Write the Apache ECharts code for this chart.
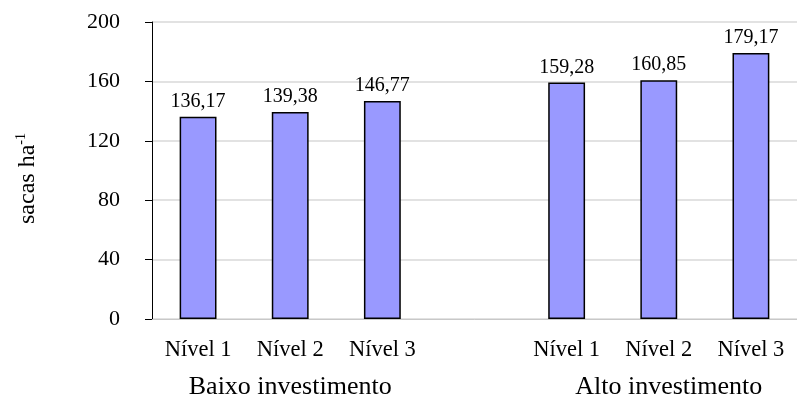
<!DOCTYPE html>
<html>
<head>
<meta charset="utf-8">
<script src="https://cdn.jsdelivr.net/npm/echarts@6/dist/echarts.min.js"></script>
<style>
  html, body { margin: 0; padding: 0; background: #fff; }
  #chart { width: 797px; height: 398px; }
</style>
</head>
<body>
<div id="chart"></div>
<script>
// Yield per investment level; the empty slot separates the two groups
const categories = ['Nível 1', 'Nível 2', 'Nível 3', '', 'Nível 1', 'Nível 2', 'Nível 3'];
const groupLabels = ['', 'Baixo investimento', '', '', '', 'Alto investimento', ''];
const yieldValues = [136.17, 139.38, 146.77, null, 159.28, 160.85, 179.17];
const yTicks = { min: 0, max: 200, interval: 40 };

const FONT = "'Liberation Serif', 'Times New Roman', serif";

const chart = echarts.init(document.getElementById('chart'), null, { renderer: 'canvas' });

chart.setOption({
  animation: false,
  backgroundColor: '#ffffff',
  grid: { left: 152, right: 0, top: 22, bottom: 79, containLabel: false, outerBoundsMode: 'none' },
  xAxis: [
    {
      type: 'category',
      data: categories,
      axisLine: { lineStyle: { color: '#c8c8c8', width: 1 } },
      axisTick: { show: false },
      axisLabel: { interval: 0, margin: 20, color: '#000', fontFamily: FONT, fontSize: 22.5 }
    },
    {
      type: 'category',
      data: groupLabels,
      position: 'bottom',
      axisLine: { show: false },
      axisTick: { show: false },
      splitLine: { show: false },
      axisLabel: {
        interval: 0, margin: 55, color: '#000', fontFamily: FONT, fontSize: 26,
        formatter: function (v) { return v === 'Alto investimento' ? '{r|' + v + '}' : v; },
        rich: { r: { fontFamily: FONT, fontSize: 26, color: '#000', padding: [0, 0, 0, 20] } }
      }
    }
  ],
  yAxis: {
    type: 'value',
    min: yTicks.min,
    max: yTicks.max,
    interval: yTicks.interval,
    name: '{n|sacas ha}{s|-1}',
    nameLocation: 'middle',
    nameGap: 110,
    nameTextStyle: {
      padding: [0, 16, 0, 0],
      rich: {
        n: { fontFamily: FONT, fontSize: 24, color: '#000', lineHeight: 28 },
        s: { fontFamily: FONT, fontSize: 14, color: '#000', verticalAlign: 'top', lineHeight: 28 }
      }
    },
    axisLine: { show: true, lineStyle: { color: '#000', width: 1 } },
    axisTick: { show: true, inside: false, length: 7, lineStyle: { color: '#000', width: 1 } },
    axisLabel: { margin: 32, color: '#000', fontFamily: FONT, fontSize: 22 },
    splitLine: { show: true, lineStyle: { color: '#d9d9d9', width: 1.5 } }
  },
  series: [
    {
      type: 'bar',
      xAxisIndex: 0,
      data: yieldValues,
      barWidth: '40%',
      itemStyle: { color: '#9999ff', borderColor: '#000', borderWidth: 1.5 },
      label: {
        show: true,
        position: 'top',
        distance: 5,
        color: '#000',
        fontFamily: FONT,
        fontSize: 20,
        formatter: function (p) { return p.value == null ? '' : p.value.toFixed(2).replace('.', ','); }
      }
    }
  ]
});
</script>
</body>
</html>
